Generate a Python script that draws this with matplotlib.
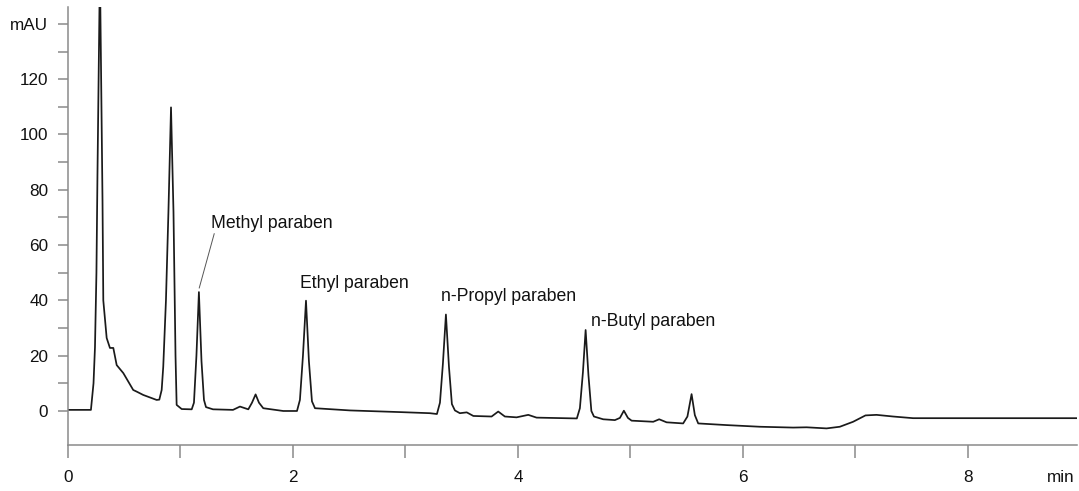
import matplotlib
matplotlib.use('Agg')
import matplotlib.pyplot as plt
import numpy as np

plt.rcParams['font.family'] = ['Liberation Sans', 'DejaVu Sans']

# Trace (time in min, absorbance in mAU)
time_min = [
    0.000, 0.204, 0.227, 0.240, 0.253, 0.262, 0.284, 0.307, 0.314, 0.344,
    0.373, 0.403, 0.433, 0.492, 0.580, 0.611, 0.669, 0.788, 0.812, 0.833,
    0.847, 0.871, 0.893, 0.916, 0.938, 0.956, 0.966, 1.011, 1.100, 1.120,
    1.142, 1.164, 1.187, 1.209, 1.227, 1.289, 1.467, 1.529, 1.603, 1.636,
    1.668, 1.698, 1.736, 1.914, 2.036, 2.062, 2.089, 2.116, 2.142, 2.169,
    2.196, 2.507, 2.951, 3.218, 3.280, 3.307, 3.333, 3.360, 3.387, 3.413,
    3.440, 3.484, 3.545, 3.604, 3.766, 3.825, 3.884, 3.988, 4.092, 4.166,
    4.524, 4.551, 4.578, 4.602, 4.627, 4.653, 4.676, 4.758, 4.862, 4.907,
    4.942, 4.978, 5.011, 5.203, 5.256, 5.322, 5.469, 5.507, 5.544, 5.573,
    5.603, 5.855, 6.151, 6.447, 6.566, 6.744, 6.862, 6.980, 7.090, 7.188,
    7.336, 7.513, 7.988, 8.462, 8.969,
]
signal_mau = [
    0.4, 0.4, 10.0, 23.0, 50.0, 85.0, 160.0, 76.0, 40.0, 26.4,
    22.8, 22.8, 16.6, 13.7, 7.6, 7.0, 5.8, 4.0, 4.1, 7.6,
    16.0, 40.0, 72.0, 109.8, 72.0, 20.0, 2.2, 0.7, 0.6, 3.0,
    20.0, 43.0, 18.0, 4.0, 1.4, 0.6, 0.4, 1.6, 0.6, 3.0,
    6.0, 3.0, 1.0, 0.0, 0.0, 4.0, 20.0, 39.9, 18.0, 3.5,
    1.0, 0.2, -0.4, -0.8, -1.1, 3.0, 17.0, 34.9, 16.0, 2.5,
    0.2, -0.8, -0.5, -1.8, -2.0, -0.2, -2.0, -2.3, -1.4, -2.4,
    -2.7, 1.0, 14.0, 29.3, 13.0, 0.0, -2.0, -3.0, -3.3, -2.5,
    0.1, -2.5, -3.5, -3.9, -3.0, -4.1, -4.5, -2.0, 6.1, -1.5,
    -4.5, -5.1, -5.7, -6.0, -5.9, -6.3, -5.7, -3.9, -1.6, -1.4,
    -2.0, -2.6, -2.6, -2.6, -2.6,
]

# Peak labels: text, x, y of text baseline
labels = ['Methyl paraben', 'Ethyl paraben', 'n-Propyl paraben', 'n-Butyl paraben']
label_x = [1.271, 2.062, 3.313, 4.646]
label_y = [66.2, 44.4, 39.9, 30.7]

x_ticks = np.arange(0, 9, 1)
y_ticks = np.arange(0, 150, 10)

fig = plt.figure(figsize=(10.79, 4.91), dpi=100)
ax = fig.add_axes([0.0630, 0.0937, 0.9351, 0.892])

ax.plot(time_min, signal_mau, color='#1a1a1a', lw=1.25)

for txt, lx, ly in zip(labels, label_x, label_y):
    ax.text(lx, ly, txt, fontsize=12.7, ha='left', va='baseline', color='#111111')

# leader line for the methyl paraben peak
ax.plot([1.167, 1.300], [44.5, 64.1], color='#555555', lw=0.7)

ax.set_xlim(0, 8.97)
ax.set_ylim(-12.3, 146.1)

ax.set_xticks(x_ticks)
ax.set_xticklabels([str(v) if v % 2 == 0 else '' for v in x_ticks])
ax.set_yticks(y_ticks)
ylabels = []
for v in y_ticks:
    if v == 140:
        ylabels.append('mAU')
    elif v % 20 == 0:
        ylabels.append(str(v))
    else:
        ylabels.append('')
ax.set_yticklabels(ylabels)

for side in ['top', 'right']:
    ax.spines[side].set_visible(False)
for side in ['left', 'bottom']:
    ax.spines[side].set_color('#8a8a8a')
    ax.spines[side].set_linewidth(1.1)

ax.tick_params(axis='y', length=7.2, width=1.1, color='#8a8a8a', pad=7,
               labelsize=12.3, labelcolor='#111111')
ax.tick_params(axis='x', length=9.3, width=1.1, color='#8a8a8a', pad=9,
               labelsize=12.3, labelcolor='#111111')

fig.text(1075 / 1079, 1 - 477 / 491, 'min', ha='right', va='center',
         fontsize=12.3, color='#111111')

fig.savefig('out.png', dpi=100)
